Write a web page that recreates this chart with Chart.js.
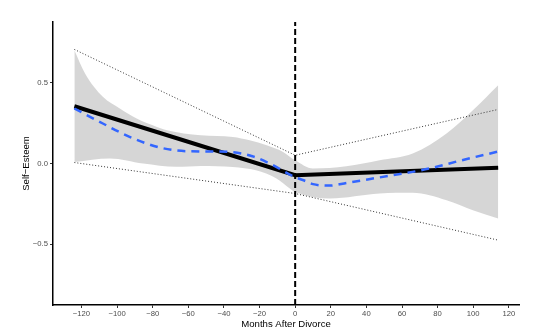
<!DOCTYPE html>
<html>
<head>
<meta charset="utf-8">
<script src="https://cdn.jsdelivr.net/npm/chart.js@4"></script>
<style>
  html, body { margin: 0; padding: 0; background: #fff; }
  canvas { display: block; }
</style>
</head>
<body>
<canvas id="chart" width="533" height="336"></canvas>
<script>
// axis ticks
const xTicks = [-120, -100, -80, -60, -40, -20, 0, 20, 40, 60, 80, 100, 120];
const yTicks = [-0.5, 0, 0.5];

// piecewise linear fit (before / after divorce)
const fitX = [-124, 0, 114];
const fitY = [0.355, -0.073, -0.027];

// dotted bounds of the piecewise fit
const boundUpperY = [0.707, 0.051, 0.335];
const boundLowerY = [0.006, -0.186, -0.475];

// loess curve (blue dashed)
const loessX = [-124, -108, -93, -76, -61, -46, -35, -24, -12.5, -1, 6, 10, 19, 29, 47, 66, 77, 92, 114];
const loessY = [0.341, 0.248, 0.165, 0.099, 0.076, 0.074, 0.07, 0.045, -0.01, -0.08, -0.11, -0.128, -0.137, -0.12, -0.087, -0.052, -0.027, 0.016, 0.074];

// loess confidence band (grey)
const bandUpperX = [-124, -118, -108, -98.5, -89, -80, -72, -53, -35, -25.6, -16, -6.8, 0, 10, 28.7, 47.4, 66, 85, 99.8, 114];
const bandUpperY = [0.702, 0.558, 0.413, 0.341, 0.279, 0.237, 0.206, 0.175, 0.165, 0.144, 0.113, 0.072, 0.02, -0.031, -0.017, 0.02, 0.062, 0.186, 0.33, 0.485];
const bandLowerX = [-124, -104, -85.4, -66.7, -53, -35, -22, -10.5, -3, 0, 19.4, 47.4, 66, 85, 99.8, 114];
const bandLowerY = [0.01, 0.031, 0.0, -0.02, -0.015, -0.021, -0.042, -0.093, -0.155, -0.176, -0.217, -0.186, -0.182, -0.228, -0.29, -0.341];

// divorce marker
const markerX = [0, 0];
const markerY = [-0.877, 0.877];

const pts = (xs, ys) => xs.map((x, i) => ({ x, y: ys[i] }));
const minus = (s) => String(s).replace("-", "\u2212");

Chart.defaults.font.family = "'Liberation Sans', Arial, sans-serif";
Chart.defaults.animation = false;

new Chart(document.getElementById("chart").getContext("2d"), {
  type: "line",
  data: {
    datasets: [
      {
        data: pts(bandLowerX, bandLowerY),
        borderWidth: 0,
        pointRadius: 0,
        fill: false,
        cubicInterpolationMode: "monotone",
        order: 10,
      },
      {
        data: pts(bandUpperX, bandUpperY),
        borderWidth: 0,
        pointRadius: 0,
        fill: "-1",
        backgroundColor: "rgba(153,153,153,0.4)",
        cubicInterpolationMode: "monotone",
        order: 9,
      },
      {
        data: pts(fitX, boundUpperY),
        borderColor: "#333",
        borderWidth: 1,
        borderDash: [1, 2],
        pointRadius: 0,
        fill: false,
        order: 6,
      },
      {
        data: pts(fitX, boundLowerY),
        borderColor: "#333",
        borderWidth: 1,
        borderDash: [1, 2],
        pointRadius: 0,
        fill: false,
        order: 5,
      },
      {
        data: pts(markerX, markerY),
        borderColor: "#000",
        borderWidth: 2,
        borderDash: [6, 3],
        pointRadius: 0,
        fill: false,
        order: 4,
      },
      {
        data: pts(fitX, fitY),
        borderColor: "#000",
        borderWidth: 4,
        pointRadius: 0,
        fill: false,
        order: 2,
      },
      {
        data: pts(loessX, loessY),
        borderColor: "#3366FF",
        borderWidth: 2.5,
        borderDash: [8, 6],
        pointRadius: 0,
        fill: false,
        cubicInterpolationMode: "monotone",
        order: 1,
      },
    ],
  },
  options: {
    responsive: false,
    maintainAspectRatio: false,
    layout: { padding: { top: 22, right: 14, left: 0, bottom: 0 } },
    plugins: {
      legend: { display: false },
      tooltip: { enabled: false },
      filler: { propagate: false },
    },
    scales: {
      x: {
        type: "linear",
        min: -136,
        max: 125.7,
        afterBuildTicks: (s) => { s.ticks = xTicks.map((v) => ({ value: v })); },
        afterFit: (s) => { s.height = 31; },
        ticks: {
          callback: (v) => minus(v),
          color: "#4d4d4d",
          font: { size: 7.7 },
          padding: 1,
          maxRotation: 0,
          autoSkip: false,
        },
        grid: { drawOnChartArea: false, drawTicks: true, tickLength: 3, tickColor: "#333" },
        border: { display: true, color: "#000", width: 1.5 },
        title: {
          display: true,
          text: "Months After Divorce",
          color: "#000",
          font: { size: 9.6 },
          padding: { top: 0, bottom: 6 },
        },
      },
      y: {
        type: "linear",
        min: -0.877,
        max: 0.877,
        afterBuildTicks: (s) => { s.ticks = yTicks.map((v) => ({ value: v })); },
        afterFit: (s) => { s.width = 53; },
        ticks: {
          callback: (v) => minus(Number(v).toFixed(1)),
          color: "#4d4d4d",
          font: { size: 7.7 },
          padding: 2,
        },
        grid: { drawOnChartArea: false, drawTicks: true, tickLength: 3, tickColor: "#333" },
        border: { display: true, color: "#000", width: 1.5 },
        title: {
          display: true,
          text: "Self\u2212Esteem",
          color: "#000",
          font: { size: 9.6 },
          padding: { top: 21, bottom: 0 },
        },
      },
    },
  },
});
</script>
</body>
</html>
